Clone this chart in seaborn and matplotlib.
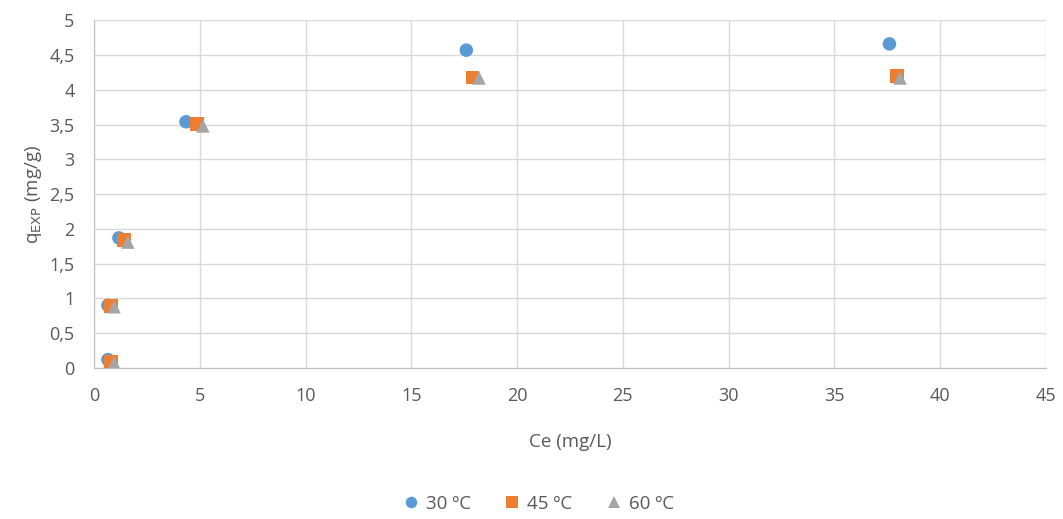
import pandas as pd
import matplotlib.pyplot as plt
import seaborn as sns
from matplotlib.ticker import FuncFormatter

# data
ce_30 = [0.66, 0.66, 1.18, 4.35, 17.6, 37.6]
q_30 = [0.12, 0.90, 1.87, 3.54, 4.57, 4.66]
ce_45 = [0.80, 0.80, 1.42, 4.87, 17.9, 37.95]
q_45 = [0.09, 0.89, 1.84, 3.51, 4.18, 4.20]
ce_60 = [0.95, 0.95, 1.60, 5.15, 18.2, 38.1]
q_60 = [0.07, 0.88, 1.81, 3.48, 4.17, 4.17]
labels = ["30 ºC", "45 ºC", "60 ºC"]

df = pd.concat([
    pd.DataFrame({"Ce": ce_30, "q": q_30, "T": labels[0]}),
    pd.DataFrame({"Ce": ce_45, "q": q_45, "T": labels[1]}),
    pd.DataFrame({"Ce": ce_60, "q": q_60, "T": labels[2]}),
])

sns.set_style("white")
plt.rcParams["font.family"] = ["Open Sans", "DejaVu Sans"]
txt = "#595959"

fig = plt.figure(figsize=(10.63, 5.19), dpi=100)
ax = fig.add_axes([0.0884, 0.291, 0.8956, 0.670])

sns.scatterplot(data=df, x="Ce", y="q", hue="T", style="T",
                markers={labels[0]: "o", labels[1]: "s", labels[2]: "^"},
                palette={labels[0]: "#5B9BD5", labels[1]: "#ED7D31", labels[2]: "#A5A5A5"},
                s=95, linewidth=0, ax=ax, zorder=3)

ax.set_xlim(0, 45)
ax.set_ylim(0, 5)
ax.set_xticks(range(0, 46, 5))
ax.set_yticks([i * 0.5 for i in range(11)])
fmt = FuncFormatter(lambda v, p: f"{v:g}".replace(".", ","))
ax.xaxis.set_major_formatter(fmt)
ax.yaxis.set_major_formatter(fmt)
ax.grid(True, color="#D9D9D9", linewidth=1)
ax.set_axisbelow(True)
for sp in ["top", "right"]:
    ax.spines[sp].set_visible(False)
for sp in ["left", "bottom"]:
    ax.spines[sp].set_color("#BFBFBF")
ax.tick_params(colors=txt, labelsize=13, length=0)
ax.tick_params(axis="x", pad=14)
ax.tick_params(axis="y", pad=14)

ax.set_xlabel("Ce (mg/L)", color=txt, fontsize=13.5, labelpad=20)
ax.set_ylabel(r"q$_{\mathrm{EXP}}$ (mg/g)", color=txt, fontsize=13.5, labelpad=4)

leg = ax.legend(loc="center", bbox_to_anchor=(0.461, -0.39), ncol=3, frameon=False,
                fontsize=13.5, handletextpad=-0.2, columnspacing=1.2, markerscale=0.85)
for t in leg.get_texts():
    t.set_color(txt)

fig.savefig("out.png", dpi=100)
